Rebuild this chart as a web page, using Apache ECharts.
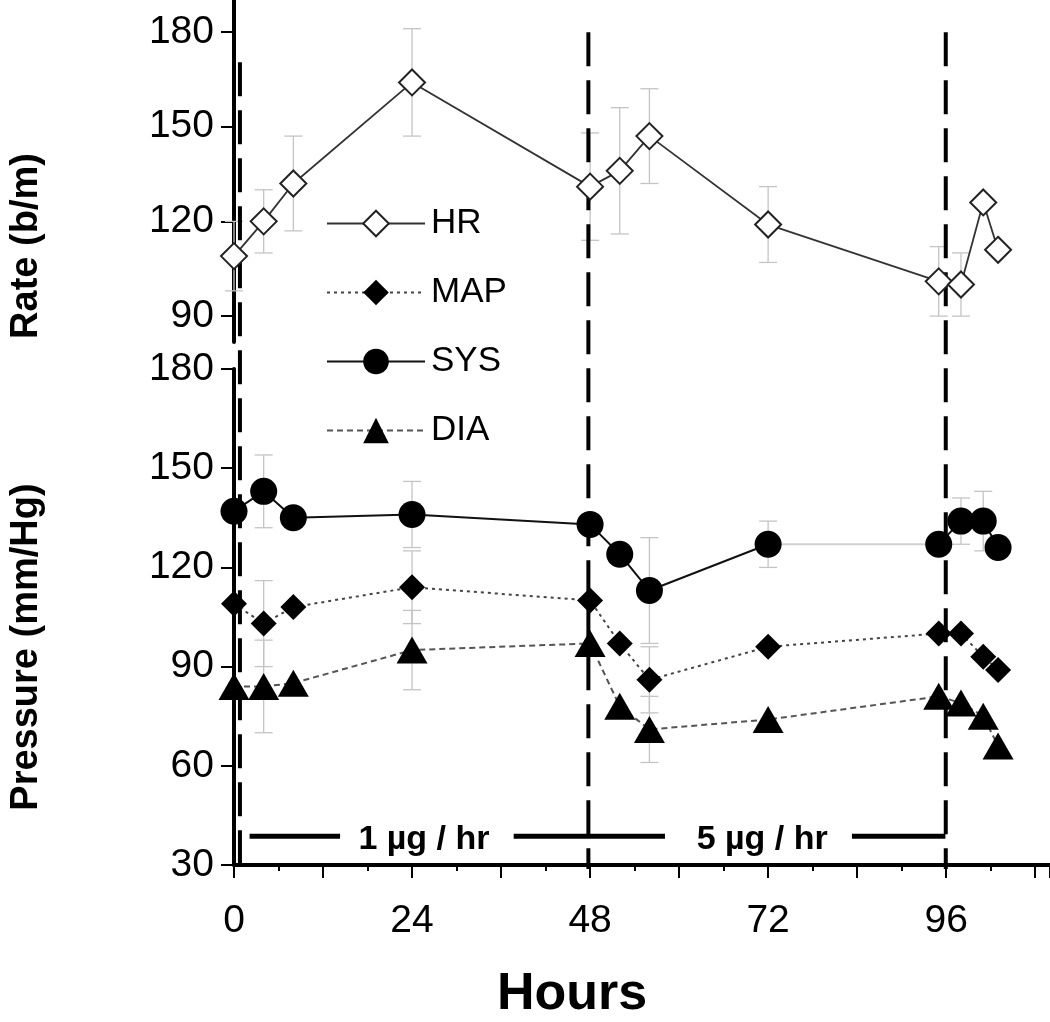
<!DOCTYPE html>
<html><head><meta charset="utf-8">
<script src="https://cdn.jsdelivr.net/npm/echarts@6/dist/echarts.min.js"></script>
<style>html,body{margin:0;padding:0;background:#fff}#c{width:1050px;height:1022px}</style>
</head><body><div id="c"></div>
<script>
// ---------- data ----------
const hours   = [0, 4, 8, 24, 48, 52, 56, 72, 95, 98, 101, 103];
const hr      = [109, 120, 132, 164, 131, 136, 147, 119, 101, 100, 126, 111];
const hrErr   = [11, 10, 15, 17, 17, 20, 15, 12, 11, 10, null, null];
const sys     = [137, 143, 135, 136, 133, 124, 113, 127, 127, 134, 134, 126];
const sysErr  = [null, 11, null, 10, null, null, 16, 7, null, 7, 9, null];
const map     = [109, 103, 108, 114, 110, 97, 86, 96, 100, 100, 93, 89];
const mapErr  = [null, 13, null, 11, null, null, 10, null, null, null, null, null];
const dia     = [84, 84, 85, 95, 97, 78, 71, 74, 81, 79, 75, 66];
const diaErr  = [null, 14, null, 12, null, null, 10, null, null, null, null, null];

const rateTicks     = [90, 120, 150, 180];
const pressureTicks = [30, 60, 90, 120, 150, 180];
const hourTicks     = [0, 24, 48, 72, 96];

// infusion annotations
const doseChangeHours = [1.2, 48, 96];
const doseLineTops    = [272, 281, 281];          // in overlay-axis units
const doseBarY        = 38.7;                     // pressure units
const doseBarSegments = [[2.1, 14.3], [37.7, 58.1], [83.3, 95.9]];
const doseLabels      = ['1 µg / hr', '5 µg / hr'];
const doseLabelHours  = [25.6, 71.2];

// ---------- helpers ----------
const FONT = "'Liberation Sans', Arial, sans-serif";
const pts = (xs, ys) => xs.map((x, i) => [x, ys[i]]);

function errSeries(xi, yi, vals, errs) {
  const data = [];
  hours.forEach((h, i) => { if (errs[i] != null) data.push([h, vals[i] - errs[i], vals[i] + errs[i]]); });
  return {
    type: 'custom', xAxisIndex: xi, yAxisIndex: yi, data, z: 1, silent: true,
    encode: { x: 0, y: [1, 2] },
    renderItem(params, api) {
      const x = api.value(0);
      const lo = api.coord([x, api.value(1)]);
      const hi = api.coord([x, api.value(2)]);
      const w = 9, st = { stroke: '#c4c4c4', lineWidth: 1.3 };
      return { type: 'group', children: [
        { type: 'line', shape: { x1: lo[0], y1: lo[1], x2: hi[0], y2: hi[1] }, style: st },
        { type: 'line', shape: { x1: lo[0] - w, y1: lo[1], x2: lo[0] + w, y2: lo[1] }, style: st },
        { type: 'line', shape: { x1: hi[0] - w, y1: hi[1], x2: hi[0] + w, y2: hi[1] }, style: st }
      ]};
    }
  };
}

const axisLine = { show: true, onZero: false, lineStyle: { color: '#000', width: 4 } };
const tickStyle = { color: '#000', width: 2 };

const series = [];

// error bars
series.push(errSeries(0, 0, hr, hrErr));
series.push(errSeries(1, 1, sys, sysErr));
series.push(errSeries(1, 1, map, mapErr));
series.push(errSeries(1, 1, dia, diaErr));

// dose-change dashed lines (overlay grid spanning both panels)
doseChangeHours.forEach((h, i) => {
  series.push({
    type: 'line', xAxisIndex: 2, yAxisIndex: 2, data: [[h, doseLineTops[i]], [h, 30]],
    symbol: 'none', silent: true, z: 3,
    lineStyle: { color: '#000', width: 4, type: [34, 14] }
  });
});

// dose bars + labels
doseBarSegments.forEach(seg => {
  series.push({
    type: 'line', xAxisIndex: 1, yAxisIndex: 1, data: [[seg[0], doseBarY], [seg[1], doseBarY]],
    symbol: 'none', silent: true, z: 3, lineStyle: { color: '#000', width: 5 }
  });
});
series.push({
  type: 'custom', xAxisIndex: 1, yAxisIndex: 1, silent: true, z: 4,
  data: doseLabels.map((t, i) => [doseLabelHours[i], doseBarY, i]),
  encode: { x: 0, y: 1 },
  renderItem(params, api) {
    const p = api.coord([api.value(0), api.value(1)]);
    return {
      type: 'text', x: p[0], y: p[1] + 3,
      style: { text: doseLabels[api.value(2)], fill: '#000', font: "bold 34px 'Liberation Sans', Arial, sans-serif",
               textAlign: 'center', textVerticalAlign: 'middle' }
    };
  }
});

// HR
series.push({
  name: 'HR', type: 'line', xAxisIndex: 0, yAxisIndex: 0, data: pts(hours, hr), z: 5,
  symbol: 'diamond', symbolSize: 26,
  itemStyle: { color: '#fff', borderColor: '#222', borderWidth: 2 },
  lineStyle: { color: '#333', width: 1.8 }
});
// MAP
series.push({
  name: 'MAP', type: 'line', xAxisIndex: 1, yAxisIndex: 1, data: pts(hours, map), z: 5,
  symbol: 'diamond', symbolSize: 26,
  itemStyle: { color: '#000' },
  lineStyle: { color: '#444', width: 2, type: [3, 4] }
});
// SYS (72 h -> 95 h segment drawn light grey)
const sysSplit = 8;
series.push({
  name: 'SYS', type: 'line', xAxisIndex: 1, yAxisIndex: 1,
  data: pts(hours.slice(0, sysSplit), sys.slice(0, sysSplit)), z: 5,
  symbol: 'circle', symbolSize: 27, itemStyle: { color: '#000' },
  lineStyle: { color: '#111', width: 2 }
});
series.push({
  type: 'line', xAxisIndex: 1, yAxisIndex: 1, silent: true, z: 4,
  data: pts(hours.slice(sysSplit - 1, sysSplit + 1), sys.slice(sysSplit - 1, sysSplit + 1)),
  symbol: 'none', lineStyle: { color: '#d0d0d0', width: 2 }
});
series.push({
  name: 'SYS', type: 'line', xAxisIndex: 1, yAxisIndex: 1,
  data: pts(hours.slice(sysSplit), sys.slice(sysSplit)), z: 5,
  symbol: 'circle', symbolSize: 27, itemStyle: { color: '#000' },
  lineStyle: { color: '#111', width: 2 }
});
// DIA
series.push({
  name: 'DIA', type: 'line', xAxisIndex: 1, yAxisIndex: 1, data: pts(hours, dia), z: 5,
  symbol: 'triangle', symbolSize: [31, 27], itemStyle: { color: '#000' },
  lineStyle: { color: '#555', width: 2, type: [6, 4] }
});

const option = {
  backgroundColor: '#fff',
  animation: false,
  grid: [
    { left: 231, top: 0, width: 820, height: 342 },
    { left: 231, top: 369, width: 820, height: 500 },
    { left: 231, top: 0, width: 820, height: 869 }
  ],
  legend: {
    data: ['HR', 'MAP', 'SYS', 'DIA'],
    orient: 'vertical', left: 321, top: 201,
    itemWidth: 98, itemHeight: 32, itemGap: 34,
    textStyle: { fontFamily: FONT, fontSize: 35, color: '#000', padding: [0, 0, 0, 1] }
  },
  xAxis: [
    { gridIndex: 0, type: 'value', min: 0, max: 110, show: false },
    { gridIndex: 1, type: 'value', min: 0, max: 110, interval: 12,
      axisLine: axisLine,
      axisTick: { show: true, length: 13, lineStyle: tickStyle },
      minorTick: { show: true, splitNumber: 2, length: 6, lineStyle: { color: '#000', width: 2 } },
      axisLabel: { customValues: hourTicks, fontFamily: FONT, fontSize: 39, color: '#000', margin: 37 },
      splitLine: { show: false },
      name: 'Hours', nameLocation: 'middle', nameGap: 104,
      nameTextStyle: { fontFamily: FONT, fontWeight: 'bold', fontSize: 52, color: '#000', padding: [0, 140, 0, 0] }
    },
    { gridIndex: 2, type: 'value', min: 0, max: 110, show: false }
  ],
  yAxis: [
    { gridIndex: 0, type: 'value', min: 81.8, max: 190.1,
      axisLine: axisLine,
      axisTick: { show: true, customValues: rateTicks, length: 13, lineStyle: tickStyle },
      axisLabel: { customValues: rateTicks, fontFamily: FONT, fontSize: 39, color: '#000', margin: 20 },
      splitLine: { show: false },
      name: 'Rate (b/m)', nameLocation: 'middle', nameGap: 188,
      nameTextStyle: { fontFamily: FONT, fontWeight: 'bold', fontSize: 38, color: '#000', padding: [0, 150, 0, 0] }
    },
    { gridIndex: 1, type: 'value', min: 30, max: 180, interval: 30,
      axisLine: axisLine,
      axisTick: { show: true, customValues: pressureTicks, length: 13, lineStyle: tickStyle },
      axisLabel: { customValues: pressureTicks, fontFamily: FONT, fontSize: 39, color: '#000', margin: 20 },
      splitLine: { show: false },
      name: 'Pressure (mm/Hg)', nameLocation: 'middle', nameGap: 188,
      nameTextStyle: { fontFamily: FONT, fontWeight: 'bold', fontSize: 38, color: '#000', padding: [0, 60, 0, 0] }
    },
    { gridIndex: 2, type: 'value', min: 30, max: 290.7, show: false }
  ],
  series
};

const chart = echarts.init(document.getElementById('c'));
chart.setOption(option);
</script>
</body></html>
